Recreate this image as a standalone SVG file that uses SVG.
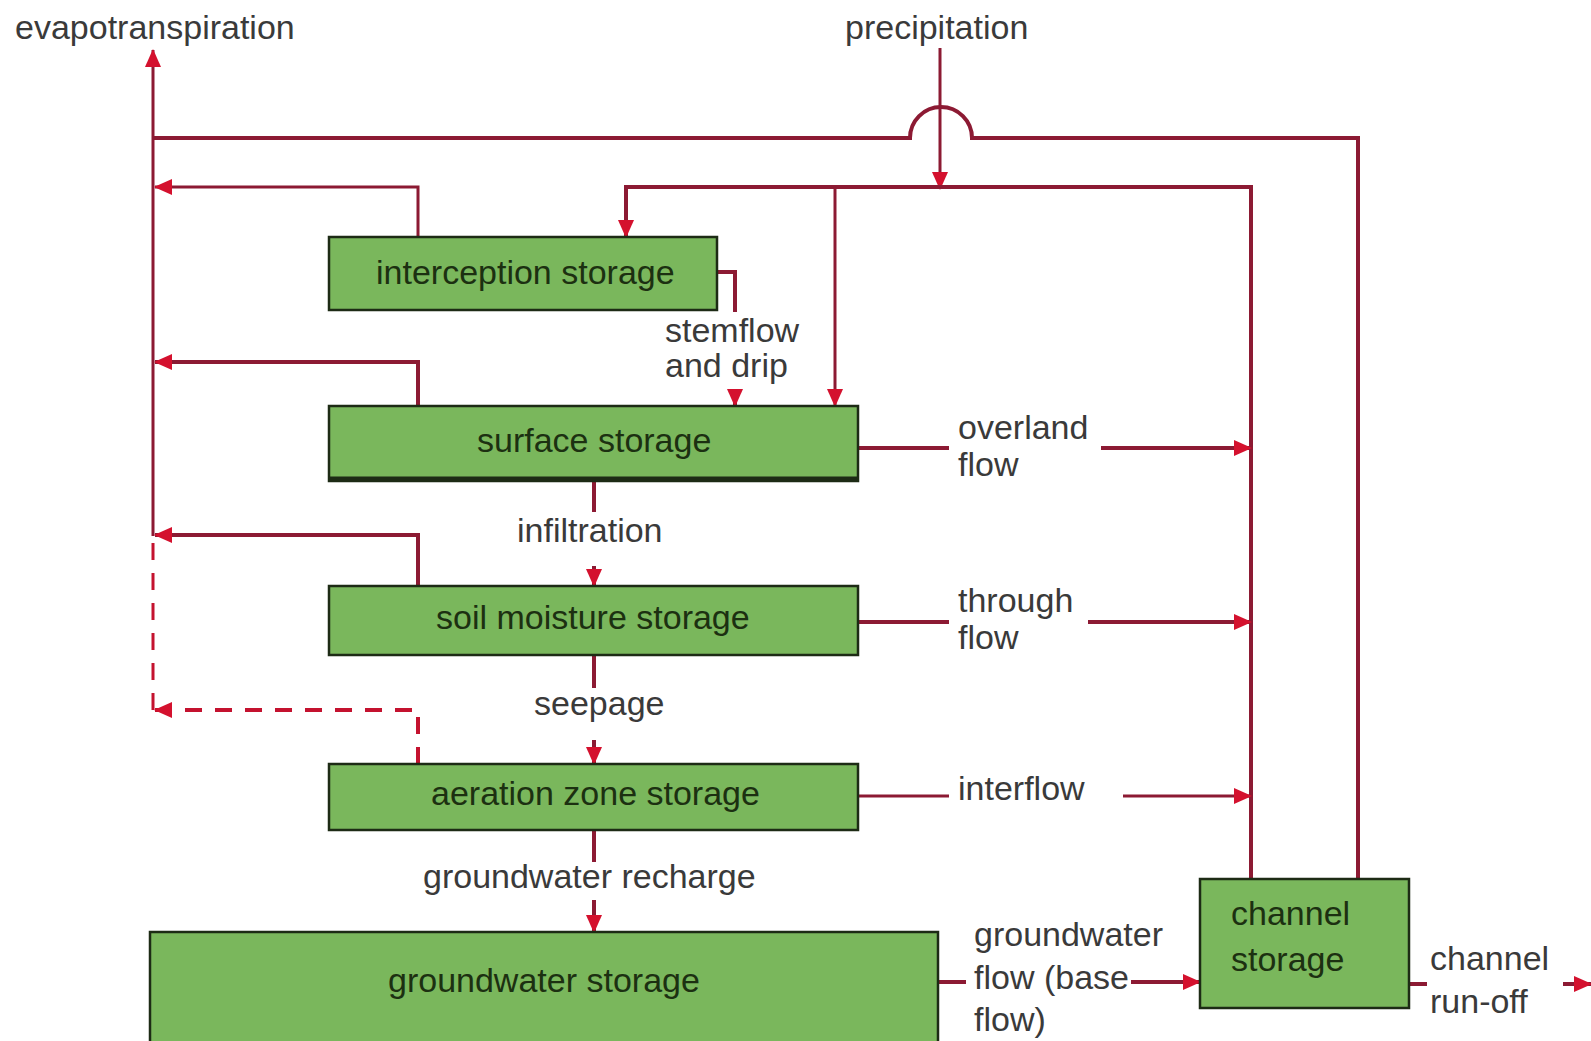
<svg xmlns="http://www.w3.org/2000/svg" width="1591" height="1041" viewBox="0 0 1591 1041">
  <style>
    .box { fill: #7ab75c; stroke: #1d2b15; stroke-width: 2.5; }
    .lbl { font-family: "Liberation Sans", Arial, sans-serif; font-size: 34px; fill: #3a3a3a; }
    .blbl { font-family: "Liberation Sans", Arial, sans-serif; font-size: 34px; fill: #1c3011; }
    .ln { fill: none; stroke: #8c1a33; stroke-width: 4; }
    .thin { stroke-width: 3; }
    .dash { stroke: #c4122f; stroke-dasharray: 17 13; }
  </style>
  <defs>
    <marker id="arr" markerUnits="userSpaceOnUse" markerWidth="18" markerHeight="18" viewBox="0 0 18 18" refX="17" refY="9" orient="auto">
      <path d="M0,1 L18,9 L0,17 Z" fill="#d4112e"/>
    </marker>
  </defs>
  <rect width="1591" height="1041" fill="#ffffff"/>

  <g id="connectors">
    <!-- evapotranspiration trunk -->
    <path class="ln thin" d="M153,536 V50" marker-end="url(#arr)"/>
    <path class="ln thin dash" d="M153,710 V536"/>
    <!-- channel storage evaporation line with hop -->
    <path class="ln" d="M1358,879 V138 H972 A31,31 0 0 0 910,138 H153"/>
    <!-- precipitation -->
    <path class="ln thin" d="M940,48 V189" marker-end="url(#arr)"/>
    <path class="ln" d="M1251,879 V187 H626 V237" marker-end="url(#arr)"/>
    <path class="ln thin" d="M835,187 V406" marker-end="url(#arr)"/>
    <!-- stemflow and drip -->
    <path class="ln" d="M717,272 H735 V312"/>
    <path class="ln" d="M735,390 V406" marker-end="url(#arr)"/>
    <!-- evaporation returns -->
    <path class="ln thin" d="M418,237 V187 H155" marker-end="url(#arr)"/>
    <path class="ln" d="M418,406 V362 H155" marker-end="url(#arr)"/>
    <path class="ln" d="M418,586 V535 H155" marker-end="url(#arr)"/>
    <path class="ln dash" d="M418,764 V710 H155" marker-end="url(#arr)"/>
    <!-- vertical flows -->
    <path class="ln" d="M594,481 V512"/>
    <path class="ln" d="M594,566 V586" marker-end="url(#arr)"/>
    <path class="ln" d="M594,655 V688"/>
    <path class="ln" d="M594,740 V764" marker-end="url(#arr)"/>
    <path class="ln" d="M594,830 V862"/>
    <path class="ln" d="M594,900 V932" marker-end="url(#arr)"/>
    <!-- lateral flows -->
    <path class="ln" d="M858,448 H949"/>
    <path class="ln" d="M1101,448 H1251" marker-end="url(#arr)"/>
    <path class="ln" d="M858,622 H949"/>
    <path class="ln" d="M1088,622 H1251" marker-end="url(#arr)"/>
    <path class="ln thin" d="M858,796 H949"/>
    <path class="ln thin" d="M1123,796 H1251" marker-end="url(#arr)"/>
    <path class="ln" d="M938,982 H966"/>
    <path class="ln" d="M1131,982 H1200" marker-end="url(#arr)"/>
    <path class="ln" d="M1409,984 H1427"/>
    <path class="ln" d="M1563,984 H1591" marker-end="url(#arr)"/>
  </g>

  <g id="n-interception">
    <rect class="box" x="329" y="237" width="388" height="73"/>
    <text class="blbl" x="376" y="284">interception storage</text>
  </g>
  <g id="n-surface">
    <rect class="box" x="329" y="406" width="529" height="75"/>
    <line x1="329" y1="479" x2="858" y2="479" stroke="#1d2b15" stroke-width="5"/>
    <text class="blbl" x="477" y="452">surface storage</text>
  </g>
  <g id="n-soil">
    <rect class="box" x="329" y="586" width="529" height="69"/>
    <text class="blbl" x="436" y="629">soil moisture storage</text>
  </g>
  <g id="n-aeration">
    <rect class="box" x="329" y="764" width="529" height="66"/>
    <text class="blbl" x="431" y="805">aeration zone storage</text>
  </g>
  <g id="n-groundwater">
    <rect class="box" x="150" y="932" width="788" height="115"/>
    <text class="blbl" x="388" y="992">groundwater storage</text>
  </g>
  <g id="n-channel">
    <rect class="box" x="1200" y="879" width="209" height="129"/>
    <text class="blbl" x="1231" y="925">channel</text>
    <text class="blbl" x="1231" y="971">storage</text>
  </g>

  <g id="labels">
    <text class="lbl" x="15" y="39">evapotranspiration</text>
    <text class="lbl" x="845" y="39">precipitation</text>
    <text class="lbl" x="665" y="342">stemflow</text>
    <text class="lbl" x="665" y="377">and drip</text>
    <text class="lbl" x="958" y="439">overland</text>
    <text class="lbl" x="958" y="476">flow</text>
    <text class="lbl" x="517" y="542">infiltration</text>
    <text class="lbl" x="958" y="612">through</text>
    <text class="lbl" x="958" y="649">flow</text>
    <text class="lbl" x="534" y="715">seepage</text>
    <text class="lbl" x="958" y="800">interflow</text>
    <text class="lbl" x="423" y="888">groundwater recharge</text>
    <text class="lbl" x="974" y="946">groundwater</text>
    <text class="lbl" x="974" y="989">flow (base</text>
    <text class="lbl" x="974" y="1031">flow)</text>
    <text class="lbl" x="1430" y="970">channel</text>
    <text class="lbl" x="1430" y="1013">run-off</text>
  </g>
</svg>
